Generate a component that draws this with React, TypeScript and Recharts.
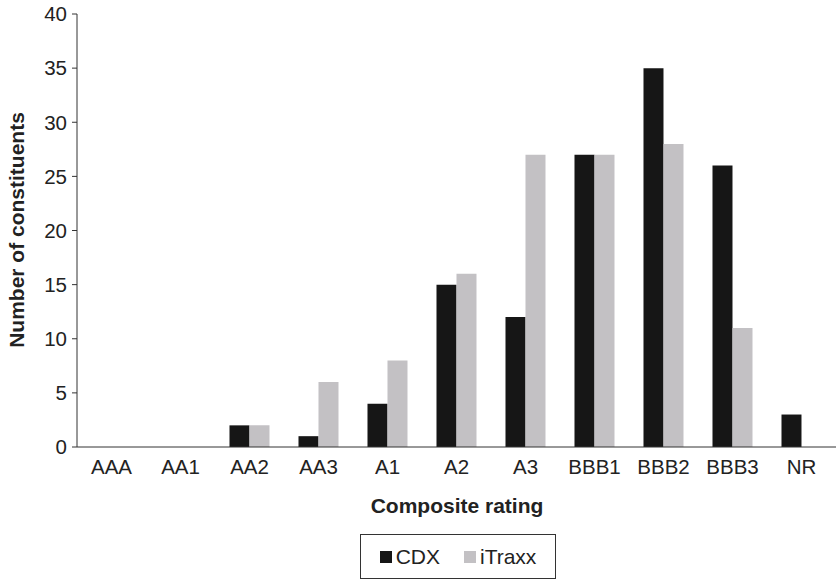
import { BarChart, Bar, XAxis, YAxis, Legend } from "recharts";

const ratings = ["AAA", "AA1", "AA2", "AA3", "A1", "A2", "A3", "BBB1", "BBB2", "BBB3", "NR"];
const cdx = [0, 0, 2, 1, 4, 15, 12, 27, 35, 26, 3];
const itraxx = [0, 0, 2, 6, 8, 16, 27, 27, 28, 11, 0];
const yTicks = [0, 5, 10, 15, 20, 25, 30, 35, 40];

const FONT = "'Liberation Sans', Arial, Helvetica, sans-serif";
const INK = "#222";

const data = ratings.map((r, i) => ({ rating: r, CDX: cdx[i], iTraxx: itraxx[i] }));

function LegendBox() {
  const item = (color: string, label: string) => (
    <span style={{ display: "inline-flex", alignItems: "center", marginRight: label === "CDX" ? 24 : 0 }}>
      <span style={{ width: 12, height: 12, background: color, marginRight: 4, display: "inline-block" }} />
      {label}
    </span>
  );
  return (
    <div
      style={{
        boxSizing: "border-box",
        width: 196,
        height: 45,
        border: "1px solid #333",
        display: "flex",
        alignItems: "center",
        justifyContent: "center",
        fontFamily: FONT,
        fontSize: 21,
        color: INK,
      }}
    >
      {item("#161616", "CDX")}
      {item("#c3c1c4", "iTraxx")}
    </div>
  );
}

export default function App() {
  return (
    <div style={{ position: "absolute", left: 0, top: 0, background: "#fff" }}>
      <BarChart
        width={837}
        height={579}
        data={data}
        margin={{ top: 14, right: 1, left: 0, bottom: 102 }}
        barCategoryGap="21%"
        barGap={0}
      >
        <XAxis
          dataKey="rating"
          tickLine={false}
          tickSize={0}
          tickMargin={12}
          height={30}
          axisLine={{ stroke: "#333", strokeWidth: 1 }}
          tick={{ fontFamily: FONT, fontSize: 20.5, fill: INK }}
          interval={0}
        />
        <YAxis
          width={77}
          domain={[0, 40]}
          ticks={yTicks}
          tickSize={5}
          tickMargin={5}
          axisLine={{ stroke: "#333", strokeWidth: 1 }}
          tickLine={{ stroke: "#333" }}
          tick={{ fontFamily: FONT, fontSize: 20.5, fill: INK }}
          interval={0}
        />
        <Bar dataKey="CDX" fill="#161616" isAnimationActive={false} />
        <Bar dataKey="iTraxx" fill="#c3c1c4" isAnimationActive={false} />
        <Legend
          layout="horizontal"
          verticalAlign="middle"
          align="center"
          content={() => <LegendBox />}
          wrapperStyle={{ position: "absolute", left: 360, top: 534, width: 196 }}
        />
        <text
          x={16}
          y={230}
          transform="rotate(-90 16 230)"
          textAnchor="middle"
          dominantBaseline="central"
          fontFamily={FONT}
          fontSize={21}
          fontWeight="bold"
          fill={INK}
        >
          Number of constituents
        </text>
        <text
          x={457}
          y={505}
          textAnchor="middle"
          dominantBaseline="central"
          fontFamily={FONT}
          fontSize={21}
          fontWeight="bold"
          fill={INK}
        >
          Composite rating
        </text>
      </BarChart>
    </div>
  );
}
